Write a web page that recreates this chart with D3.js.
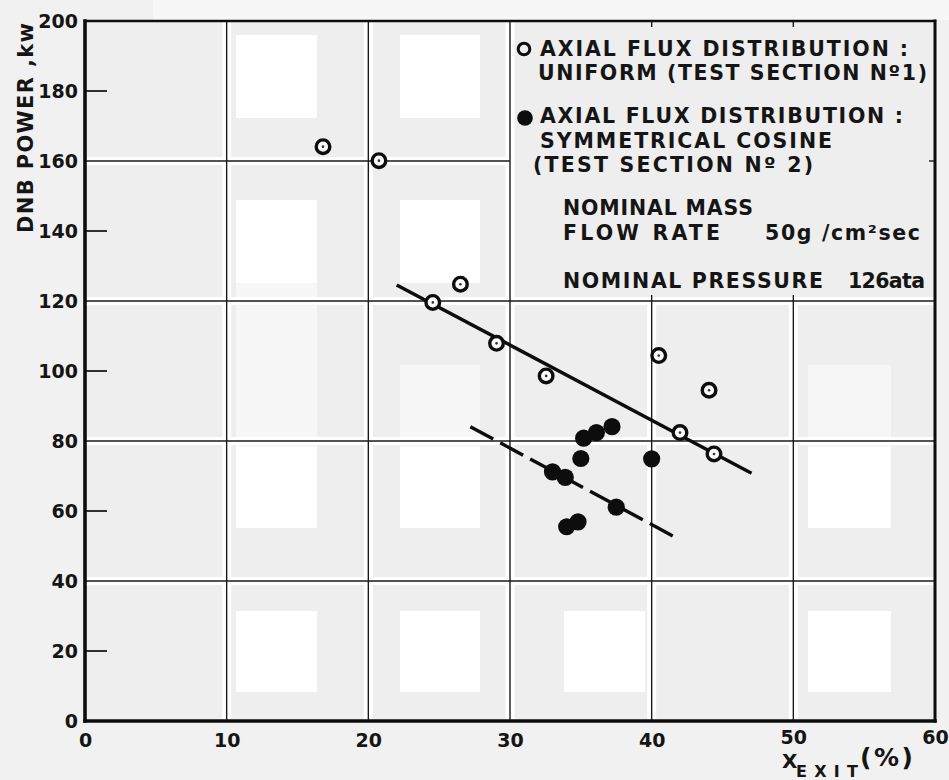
<!DOCTYPE html>
<html><head><meta charset="utf-8">
<script src="https://cdn.jsdelivr.net/npm/d3@7/dist/d3.min.js"></script>
<style>
html,body{margin:0;padding:0;background:#f1f1f1;}
svg{display:block;}
text{font-family:"DejaVu Sans",sans-serif;font-weight:bold;fill:#151515;}
</style></head><body>
<svg id="chart" width="949" height="780"></svg>
<script>
// ---- data ----
const uniformX = [16.8, 20.75, 24.55, 26.5, 29.05, 32.55, 40.5, 44.05, 42.0, 44.4];
const uniformY = [164.1, 160.1, 119.6, 124.8, 107.9, 98.6, 104.4, 94.5, 82.4, 76.3];
const cosineX = [35.2, 36.1, 37.2, 35.0, 40.0, 33.0, 33.9, 37.5, 34.0, 34.8];
const cosineY = [80.8, 82.4, 84.1, 75.0, 74.9, 71.2, 69.6, 61.1, 55.5, 56.9];
const uniformFitX = [22.0, 47.05];
const uniformFitY = [124.6, 70.8];
const cosineFitX = [27.2, 41.8];
const cosineFitY = [84.1, 52.2];
const xTicks = [0, 10, 20, 30, 40, 50, 60];
const yTicks = [0, 20, 40, 60, 80, 100, 120, 140, 160, 180, 200];
const xGridFull = [10, 20, 30];
const xGridShort = [40, 50];
const yGridFull = [40, 80, 120];
const yGridShort = [160];
const yMinorTicks = [20, 60, 100, 140, 180];

// ---- layout ----
const svg = d3.select("#chart");
const x = d3.scaleLinear().domain([0, 60]).range([85, 935]);
const y = d3.scaleLinear().domain([0, 200]).range([721, 21]);

// scanned paper tone
svg.append("rect").attr("x", 0).attr("y", 0).attr("width", 949).attr("height", 780).attr("fill", "#f1f1f1");
svg.append("rect").attr("x", 153).attr("y", 0).attr("width", 796).attr("height", 20).attr("fill", "#f7f7f7");
svg.append("rect").attr("x", x(0)).attr("y", y(200)).attr("width", x(60) - x(0)).attr("height", y(0) - y(200)).attr("fill", "#eeeeee");
const paperPatches = [
  [236, 35, 81, 83, "#ffffff"], [400, 35, 80, 83, "#ffffff"],
  [236, 200, 81, 83, "#ffffff"], [400, 200, 80, 83, "#ffffff"],
  [236, 283, 81, 164, "#f7f7f7"], [236, 447, 81, 81, "#ffffff"],
  [400, 365, 80, 82, "#f7f7f7"], [400, 447, 80, 81, "#ffffff"],
  [808, 365, 83, 82, "#f6f6f6"], [808, 447, 83, 81, "#ffffff"],
  [236, 611, 81, 81, "#ffffff"], [400, 611, 80, 81, "#ffffff"],
  [564, 611, 81, 81, "#ffffff"], [808, 611, 83, 81, "#ffffff"]
];
svg.append("g").selectAll("rect").data(paperPatches).join("rect")
  .attr("x", d => d[0]).attr("y", d => d[1]).attr("width", d => d[2]).attr("height", d => d[3]).attr("fill", d => d[4]);

// ---- grid ----
const grid = svg.append("g");
function vLine(v, y0, y1) {
  grid.append("line").attr("x1", x(v)).attr("x2", x(v)).attr("y1", y(y0)).attr("y2", y(y1))
    .attr("stroke", "#fff").attr("stroke-width", 9);
}
function hLine(v, x0, x1) {
  grid.append("line").attr("y1", y(v)).attr("y2", y(v)).attr("x1", x(x0)).attr("x2", x(x1))
    .attr("stroke", "#fff").attr("stroke-width", 8);
}
xGridFull.forEach(v => vLine(v, 0, 200));
xGridShort.forEach(v => vLine(v, 0, 120));
yGridFull.forEach(v => hLine(v, 0, 60));
yGridShort.forEach(v => hLine(v, 0, 30));
const gridDark = svg.append("g").attr("stroke", "#1a1a1a").attr("stroke-width", 1.4);
xGridFull.forEach(v => gridDark.append("line").attr("x1", x(v)).attr("x2", x(v)).attr("y1", y(0)).attr("y2", y(200)));
xGridShort.forEach(v => {
  gridDark.append("line").attr("x1", x(v)).attr("x2", x(v)).attr("y1", y(0)).attr("y2", y(120));
  gridDark.append("line").attr("x1", x(v)).attr("x2", x(v)).attr("y1", y(200)).attr("y2", y(200) + 6);
  gridDark.append("line").attr("x1", x(v)).attr("x2", x(v)).attr("y1", y(120)).attr("y2", y(120) - 6);
});
yGridFull.forEach(v => gridDark.append("line").attr("y1", y(v)).attr("y2", y(v)).attr("x1", x(0)).attr("x2", x(60)));
yGridShort.forEach(v => {
  gridDark.append("line").attr("y1", y(v)).attr("y2", y(v)).attr("x1", x(0)).attr("x2", x(30));
  gridDark.append("line").attr("y1", y(v)).attr("y2", y(v)).attr("x1", x(60)).attr("x2", x(60) - 6);
});
yMinorTicks.forEach(v => gridDark.append("line").attr("y1", y(v)).attr("y2", y(v)).attr("x1", x(0)).attr("x2", x(0) + 22).attr("stroke-width", 1.8));

// ---- frame ----
const frame = svg.append("g").attr("stroke", "#0d0d0d").attr("stroke-linecap", "square");
frame.append("line").attr("x1", x(0)).attr("x2", x(60)).attr("y1", y(200)).attr("y2", y(200)).attr("stroke-width", 2.6);
frame.append("line").attr("x1", x(60)).attr("x2", x(60)).attr("y1", y(200)).attr("y2", y(0)).attr("stroke-width", 3);
frame.append("line").attr("x1", x(0)).attr("x2", x(60)).attr("y1", y(0)).attr("y2", y(0)).attr("stroke-width", 3.6);
frame.append("line").attr("x1", x(0)).attr("x2", x(0)).attr("y1", y(200)).attr("y2", y(0)).attr("stroke-width", 3.6);

// ---- axes ----
const yAxis = svg.append("g").attr("transform", `translate(${x(0)},0)`)
  .call(d3.axisLeft(y).tickValues(yTicks).tickSize(0).tickPadding(7));
yAxis.select(".domain").remove();
yAxis.selectAll("text").attr("font-size", 19).attr("font-family", "DejaVu Sans").attr("font-weight", "bold").attr("fill", "#151515");

const xAxis = svg.append("g").attr("transform", `translate(0,${y(0)})`)
  .call(d3.axisBottom(x).tickValues(xTicks).tickSize(0).tickPadding(13));
xAxis.select(".domain").remove();
xAxis.selectAll("text").attr("font-size", 19).attr("font-family", "DejaVu Sans").attr("font-weight", "bold").attr("fill", "#151515")
  .attr("y", d => d >= 50 ? 10 : 13);

// axis titles
svg.append("text").attr("transform", "translate(33,233) rotate(-90)")
  .attr("font-size", 21).attr("textLength", 210).attr("lengthAdjust", "spacing")
  .text("DNB  POWER ,kw");
svg.append("text").attr("x", 782).attr("y", 768).attr("font-size", 20).text("X");
svg.append("text").attr("x", 796).attr("y", 777).attr("font-size", 16)
  .attr("textLength", 62).attr("lengthAdjust", "spacing").text("EXIT");
svg.append("text").attr("x", 860).attr("y", 766).attr("font-size", 25).attr("font-weight", "normal")
  .attr("textLength", 53).attr("lengthAdjust", "spacing").text("(%)");

// ---- fit lines ----
const lineGen = d3.line().x(d => x(d[0])).y(d => y(d[1]));
svg.append("path").datum(d3.zip(uniformFitX, uniformFitY)).attr("d", lineGen)
  .attr("fill", "none").attr("stroke", "#0d0d0d").attr("stroke-width", 3.4);
svg.append("path").datum(d3.zip(cosineFitX, cosineFitY)).attr("d", lineGen)
  .attr("fill", "none").attr("stroke", "#0d0d0d").attr("stroke-width", 3.4)
  .attr("stroke-dasharray", "26,8");

// ---- points ----
const uni = d3.zip(uniformX, uniformY);
const cos = d3.zip(cosineX, cosineY);
svg.append("g").selectAll("circle").data(uni).join("circle")
  .attr("cx", d => x(d[0])).attr("cy", d => y(d[1])).attr("r", 6.8)
  .attr("fill", "#fafafa").attr("stroke", "#0d0d0d").attr("stroke-width", 3.4);
svg.append("g").selectAll("circle").data(uni).join("circle")
  .attr("cx", d => x(d[0])).attr("cy", d => y(d[1])).attr("r", 1.3).attr("fill", "#333");
svg.append("g").selectAll("circle").data(cos).join("circle")
  .attr("cx", d => x(d[0])).attr("cy", d => y(d[1])).attr("r", 8.6).attr("fill", "#0d0d0d");

// ---- legend / notes ----
svg.append("circle").attr("cx", 524).attr("cy", 49).attr("r", 5.8)
  .attr("fill", "#eeeeee").attr("stroke", "#0d0d0d").attr("stroke-width", 3);
svg.append("circle").attr("cx", 525).attr("cy", 118).attr("r", 7.8).attr("fill", "#0d0d0d");
const notes = [
  ["AXIAL FLUX  DISTRIBUTION :", 540, 908, 56],
  ["UNIFORM (TEST SECTION N\u00BA1)", 538, 927, 80],
  ["AXIAL FLUX  DISTRIBUTION :", 540, 903, 123],
  ["SYMMETRICAL  COSINE", 540, 832, 148],
  ["(TEST SECTION N\u00BA 2)", 533, 813, 172],
  ["NOMINAL MASS", 563, 753, 215],
  ["FLOW  RATE", 563, 720, 240],
  ["50g /cm\u00B2sec", 765, 920, 240],
  ["NOMINAL PRESSURE", 563, 823, 288],
  ["126ata", 848, 925, 288]
];
svg.append("g").selectAll("text").data(notes).join("text")
  .attr("x", d => d[1]).attr("y", d => d[3]).attr("font-size", 20.5)
  .attr("textLength", d => d[2] - d[1]).attr("lengthAdjust", "spacing")
  .text(d => d[0]);
</script>
</body></html>
